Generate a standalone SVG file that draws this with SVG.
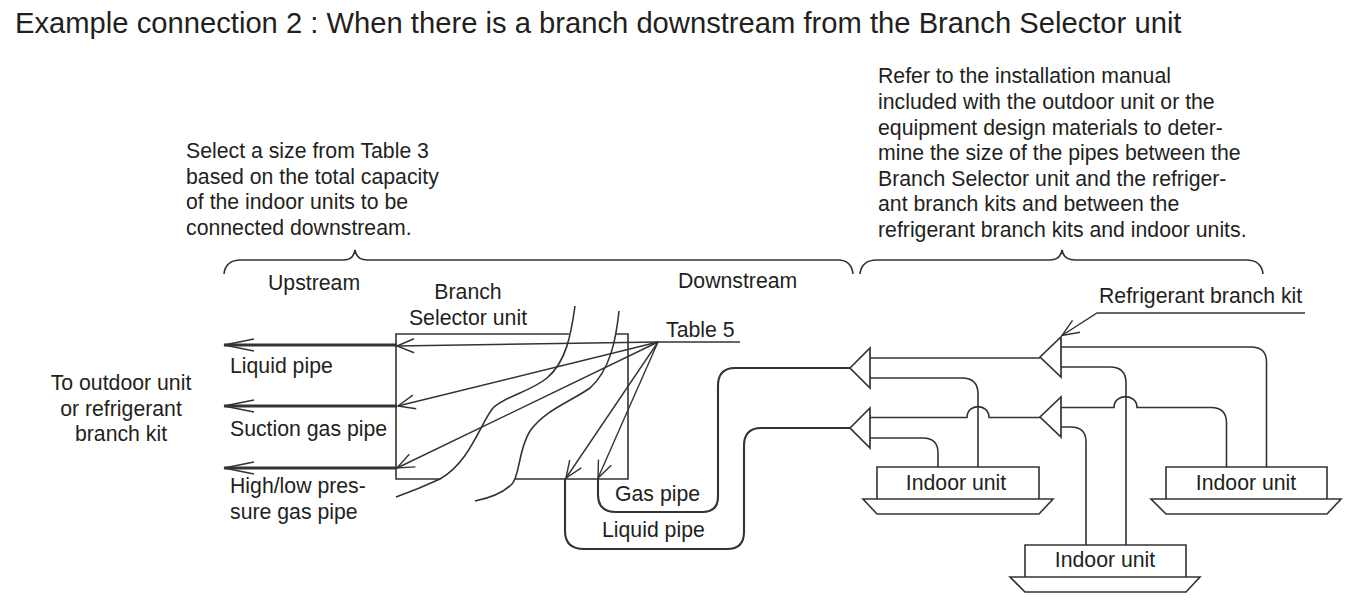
<svg xmlns="http://www.w3.org/2000/svg" width="1355" height="611" viewBox="0 0 1355 611">
<style>
text{font-family:"Liberation Sans",Arial,sans-serif;font-size:21.25px;fill:#231f20}
.title{font-size:29.2px}
.m{text-anchor:middle}
.l{fill:none;stroke:#333;stroke-width:1.6}
.t{fill:none;stroke:#333;stroke-width:3}
.p{fill:none;stroke:#333;stroke-width:2.1}
.a{fill:none;stroke:#333;stroke-width:1.4}
.w{fill:#fff;stroke:#333;stroke-width:1.7}
</style>
<defs>
<marker id="open" markerUnits="userSpaceOnUse" markerWidth="34" markerHeight="24" refX="32" refY="12" orient="auto"><path d="M2 6L32 12L2 18" fill="none" stroke="#333" stroke-width="1.4"/></marker>
<marker id="openS" markerUnits="userSpaceOnUse" markerWidth="24" markerHeight="20" refX="22" refY="10" orient="auto"><path d="M5 3L22 10L5 17" fill="none" stroke="#333" stroke-width="1.4"/></marker>
</defs>
<rect width="1355" height="611" fill="#fff"/>
<text class="title" x="15" y="33">Example connection 2 : When there is a branch downstream from the Branch Selector unit</text>
<g id="notes">
<text x="186" y="158">Select a size from Table 3</text>
<text x="186" y="184">based on the total capacity</text>
<text x="186" y="209">of the indoor units to be</text>
<text x="186" y="235">connected downstream.</text>
<text x="878" y="83">Refer to the installation manual</text>
<text x="878" y="109">included with the outdoor unit or the</text>
<text x="878" y="135">equipment design materials to deter-</text>
<text x="878" y="160">mine the size of the pipes between the</text>
<text x="878" y="186">Branch Selector unit and the refriger-</text>
<text x="878" y="211">ant branch kits and between the</text>
<text x="878" y="237">refrigerant branch kits and indoor units.</text>
<text x="268" y="290">Upstream</text>
<text x="678" y="288">Downstream</text>
<text class="m" x="121" y="390">To outdoor unit</text>
<text class="m" x="121" y="416">or refrigerant</text>
<text class="m" x="121" y="441">branch kit</text>
<text x="230" y="373">Liquid pipe</text>
<text x="230" y="436">Suction gas pipe</text>
<text x="230" y="493">High/low pres-</text>
<text x="230" y="519">sure gas pipe</text>
<text x="666" y="337">Table 5</text>
<text x="615" y="501">Gas pipe</text>
<text x="602" y="537">Liquid pipe</text>
<text x="1099" y="303">Refrigerant branch kit</text>
</g>
<g id="connectors">
<path class="l" d="M224 274C225 265 231 260 241 260H344C350 260 354 256 355 250C356 256 360 260 367 260H838C847 260 852 265 853 274"/>
<path class="l" d="M860 274C861 265 867 260 877 260H1050C1057 260 1061 256 1062 250C1063 256 1067 260 1075 260H1246C1256 260 1262 265 1263 274"/>
<path class="t" d="M397 345H224" marker-end="url(#open)"/>
<path class="t" d="M397 406H224" marker-end="url(#open)"/>
<path class="t" d="M397 468H224" marker-end="url(#open)"/>
<path class="l" d="M440 479H396V334H569M616 334H628V479H515"/>
<path class="l" d="M575 306C571 335 566 362 547 378C530 392 505 396 493 408C480 424 470 462 440 479C425 486 410 492 396 497"/>
<path class="l" d="M619 311C616 340 610 370 590 388C570 402 545 410 530 431C518 450 520 476 512 484C503 493 490 498 475 501"/>
<path class="l" d="M658 342H740"/>
<path class="a" d="M658 342L397 346" marker-end="url(#openS)"/>
<path class="a" d="M658 342L398 406" marker-end="url(#openS)"/>
<path class="a" d="M658 342L397 468" marker-end="url(#openS)"/>
<path class="a" d="M658 342L566 478" marker-end="url(#openS)"/>
<path class="a" d="M658 342L598 478" marker-end="url(#openS)"/>
<path class="p" d="M598 478V495Q598 512 616 512H702Q718 512 718 497V386Q718 368 735 368H850"/>
<path class="p" d="M565 478V531Q565 549 584 549H727Q744 549 744 532V446Q744 428 761 428H850"/>
<path class="l" d="M870 358H1040"/>
<path class="l" d="M870 378H962Q978 378 978 394V467"/>
<path class="l" d="M870 417.500H967C967 403 989 403 989 417.500H1040"/>
<path class="l" d="M870 438H923Q938 438 938 453V467"/>
<path class="l" d="M1061 347H1251Q1266.500 347 1266.500 362V467"/>
<path class="l" d="M1061 367H1110Q1126 367 1126 383V545"/>
<path class="l" d="M1061 407.500H1114C1114 393 1137 393 1137 407.500H1211Q1226.500 407.500 1226.500 423V467"/>
<path class="l" d="M1061 427H1071Q1086 427 1086 442V545"/>
<path class="a" d="M1305 313H1097L1062 335.500" marker-end="url(#openS)"/>
</g>
<g id="kit-1"><path class="w" d="M850 368L870 348V388Z"/></g>
<g id="kit-2"><path class="w" d="M850 428L870 408V448Z"/></g>
<g id="kit-3"><path class="w" d="M1040 357L1061 337V377Z"/></g>
<g id="kit-4"><path class="w" d="M1040 417L1061 397V437Z"/></g>
<g id="indoor-1"><path class="l" d="M877 499V467H1039V499"/><path class="l" d="M863 499H1053L1039 514H877Z"/><text class="m" x="956" y="490">Indoor unit</text></g>
<g id="indoor-2"><path class="l" d="M1025 577V545H1186V577"/><path class="l" d="M1010 577H1200L1186 592H1025Z"/><text class="m" x="1105" y="567">Indoor unit</text></g>
<g id="indoor-3"><path class="l" d="M1166 499V467H1327V499"/><path class="l" d="M1151 499H1341L1327 514H1166Z"/><text class="m" x="1246" y="490">Indoor unit</text></g>
<g id="branch-selector"><text class="m" x="468" y="299">Branch</text><text class="m" x="468" y="325">Selector unit</text></g>
</svg>
